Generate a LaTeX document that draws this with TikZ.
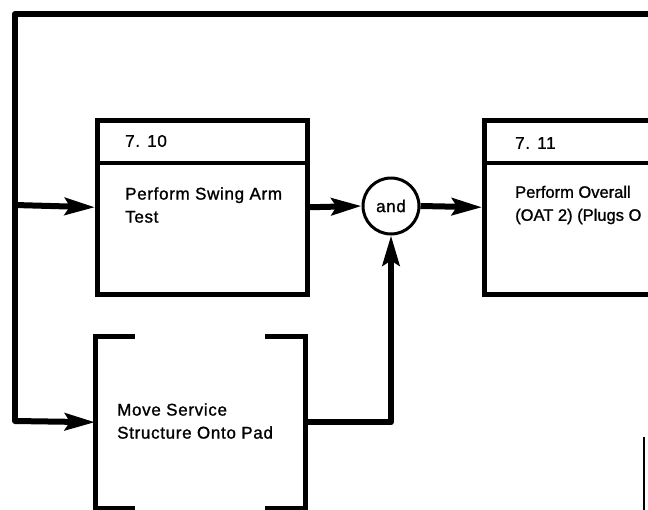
\documentclass[tikz,border=0pt]{standalone}
\usepackage{fontspec}
\setmainfont{Liberation Sans}
\newfontfamily\diafont{Liberation Sans}[FakeBold=1.2,LetterSpace=4]
\newfontfamily\diafontn{Liberation Sans}[FakeBold=1.2]
\usetikzlibrary{arrows.meta}
\begin{document}
\begin{tikzpicture}[x=1pt,y=-1pt,
  conn/.style={line width=6pt},
  arr/.style={conn,-{Stealth[length=30pt,width=17pt,inset=5pt]}},
  box/.style={draw,line width=4.5pt,rectangle,inner sep=0pt,anchor=north west},
  lbl/.style={anchor=west,inner sep=0pt,font=\diafont\fontsize{17}{23}\selectfont,align=left},
  lbln/.style={lbl,font=\diafontn\fontsize{16.5}{23}\selectfont},
  gate/.style={draw,circle,line width=3pt,minimum size=56pt,inner sep=0pt,font=\diafont\fontsize{17}{20}\selectfont}]
\useasboundingbox (0,0) rectangle (648,509);
\clip (0,0) rectangle (648,509);
% boxes
\node[box,minimum width=210pt,minimum height=174pt] (b710) at (95,118) {};
\draw[line width=3.5pt] (95,163) -- (305,163);
\node[lbl] (n710) at (125,141) {7. 10};
\node[lbl] (t710) at (125,205) {Perform Swing Arm\\Test};
\node[box,minimum width=230pt,minimum height=174pt] (b711) at (482,118) {};
\draw[line width=3.5pt] (482,163) -- (712,163);
\node[lbl] (n711) at (515,143) {7. 11};
\node[lbln] (t711) at (515,205) {Perform Overall\\(OAT 2) (Plugs O};
% lower bracket box
\node[inner sep=0pt,minimum width=210pt,minimum height=172pt,anchor=north west] (bms) at (95,336) {};
\draw[line width=5pt] ([xshift=40pt]bms.north west) -- (bms.north west) -- (bms.south west) -- ([xshift=40pt]bms.south west);
\draw[line width=5pt] ([xshift=-40pt]bms.north east) -- (bms.north east) -- (bms.south east) -- ([xshift=-40pt]bms.south east);
\node[lbl] (tms) at (117,421) {Move Service\\Structure Onto Pad};
% and gate
\node[gate] (and) at (391,206) {and};
% loop
\coordinate (rt) at (660,14);
\coordinate (c1) at (15,14);
\coordinate (j1) at (15,205);
\coordinate (c2) at (15,421);
\draw[conn,line cap=round,line join=round] (rt) -- (c1) -- (c2);
\draw[arr] (j1) -- (b710.west);
\draw[arr] (c2) -- (bms.west);
\draw[arr] (b710.east) -- (and.west);
\draw[arr] (and.east) -- (b711.west);
\draw[arr,line join=round] (bms.east) -| (and.south);
% partial line at lower right
\coordinate (p1) at (644,437);
\coordinate (p2) at (644,512);
\draw[line width=2pt] (p1) -- (p2);
\end{tikzpicture}
\end{document}
